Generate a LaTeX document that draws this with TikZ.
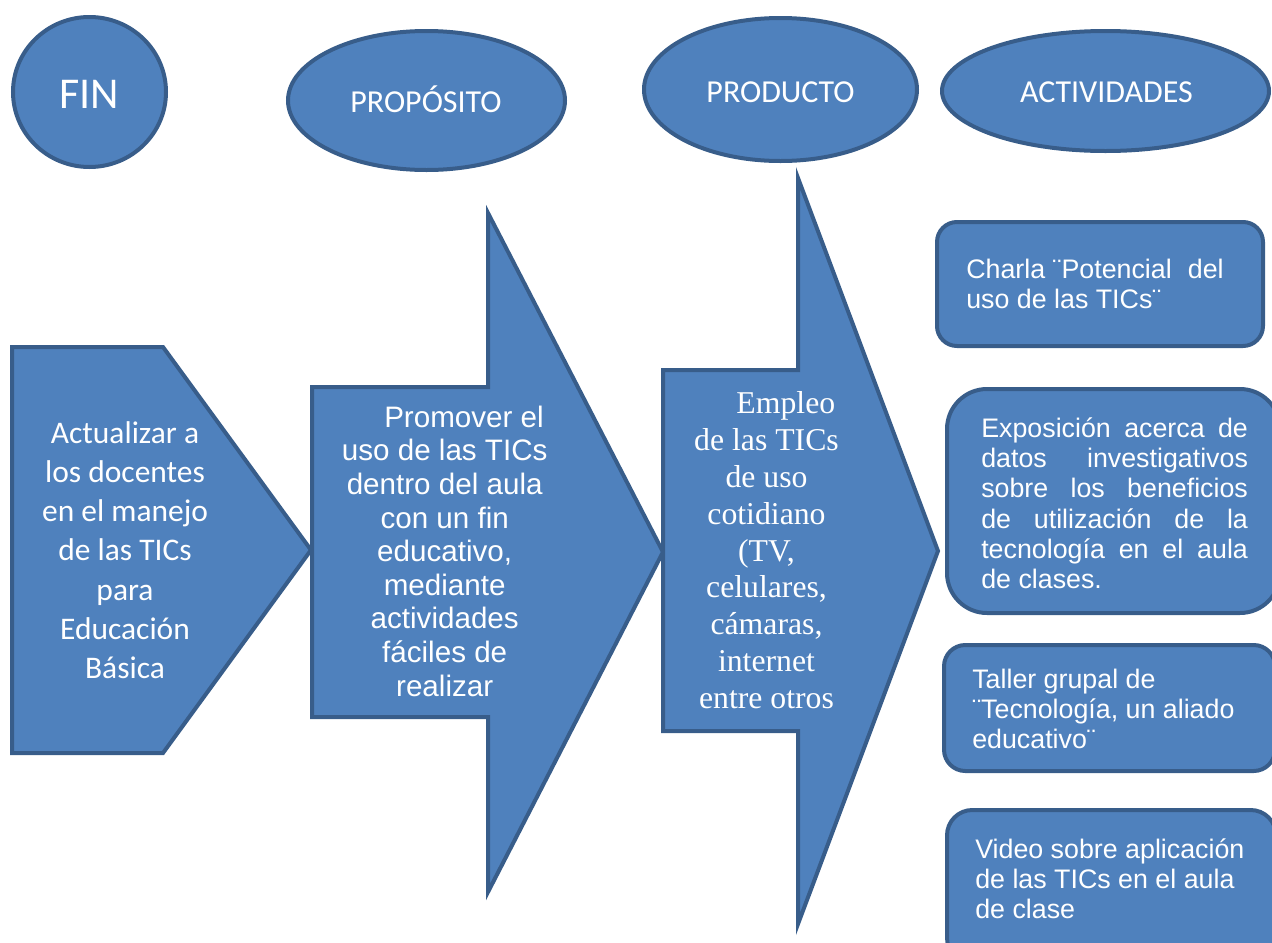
\documentclass[tikz,border=0pt]{standalone}
\usepackage{fontspec}
\usetikzlibrary{shapes.geometric}
\newfontfamily\carlito{Carlito}
\newfontfamily\arialf{Liberation Sans}
\newfontfamily\timesf{Liberation Serif}
\definecolor{fillblue}{HTML}{4F81BD}
\definecolor{edgeblue}{HTML}{385D8A}
\newcommand\tfl{\rule{0pt}{1em}}
\newcommand\jline[1]{\makebox[200pt][s]{#1}}
\begin{document}
\begin{tikzpicture}[x=0.75pt,y=-0.75pt,
  shp/.style={fill=fillblue, draw=edgeblue, line width=3pt, line join=miter},
  ell/.style={shp, ellipse, inner sep=0pt},
  actbox/.style={shp, rectangle, inner sep=0pt},
  wtxt/.style={text=white, inner sep=0pt},
  titletxt/.style={wtxt, anchor=base, font=\carlito\fontsize{24pt}{29pt}\selectfont},
  boxtxt/.style={wtxt, anchor=north west, align=left, font=\arialf\fontsize{20.1pt}{22.7pt}\selectfont}]
\useasboundingbox (0,0) rectangle (1272,943);

% title ellipses
\node[ell, minimum width=114.75pt, minimum height=112.5pt] (fin) at (89.5,92) {};
\node[wtxt, anchor=base, font=\carlito\fontsize{33pt}{40pt}\selectfont] (fintxt) at (89.5,108) {FIN};
\node[ell, minimum width=207.75pt, minimum height=104.25pt] (prop) at (426.5,100.5) {};
\node[titletxt] (proptxt) at (426,112) {PROPÓSITO};
\node[ell, minimum width=204.75pt, minimum height=107.25pt] (prod) at (780.5,89.5) {};
\node[titletxt] (prodtxt) at (780.5,102) {PRODUCTO};
\node[ell, minimum width=245.25pt, minimum height=90pt] (act) at (1105.5,91) {};
\node[titletxt] (acttxt) at (1106.5,102) {ACTIVIDADES};

% pentagon (FIN)
\draw[shp] (12,347) -- (163,347) -- (311,550) -- (163,753) -- (12,753) -- cycle;
\node[wtxt, anchor=north, align=center, font=\carlito\fontsize{23.6pt}{29.4pt}\selectfont] (fintext) at (125,411.5)
  {\tfl Actualizar a\\los docentes\\en el manejo\\de las TICs\\para\\Educación\\Básica};

% arrow (PROPÓSITO)
\draw[shp] (312,387) -- (488,387) -- (488,213) -- (663,552) -- (488,892) -- (488,717) -- (312,717) -- cycle;
\node[wtxt, anchor=north, align=center, font=\arialf\fontsize{22.2pt}{25.2pt}\selectfont] (proptext) at (444.7,397.4)
  {\tfl\hspace*{29pt}Promover el\\uso de las TICs\\dentro del aula\\con un fin\\educativo,\\mediante\\actividades\\fáciles de\\realizar};

% arrow (PRODUCTO)
\draw[shp] (663,370) -- (798,370) -- (798,178) -- (938,551) -- (798,924) -- (798,731) -- (663,731) -- cycle;
\node[wtxt, anchor=north, align=center, font=\timesf\fontsize{23.8pt}{27.7pt}\selectfont] (prodtext) at (766.5,381.3)
  {\tfl\hspace*{29pt}Empleo\\de las TICs\\de uso\\cotidiano\\(TV,\\celulares,\\cámaras,\\internet\\entre otros};

% activity boxes
\node[actbox, rounded corners=15pt, minimum width=244.5pt, minimum height=93pt] (b1) at (1100,284) {};
\node[boxtxt] (b1txt) at (966,251.2) {\tfl Charla ¨Potencial\hspace{0.6em}del\\uso de las TICs¨};

\node[actbox, rounded corners=30pt, minimum width=249.75pt, minimum height=168pt] (b2) at (1113.5,501) {};
\node[boxtxt] (b2txt) at (981,410.2) {\tfl\jline{Exposición acerca de}\\\jline{datos investigativos}\\\jline{sobre los beneficios}\\\jline{de utilización de la}\\\jline{tecnología en el aula}\\de clases.};

\node[actbox, rounded corners=16pt, minimum width=248.25pt, minimum height=94.5pt] (b3) at (1109.5,708) {};
\node[boxtxt] (b3txt) at (972,661.2) {\tfl Taller grupal de\\¨Tecnología, un aliado\\educativo¨};

\node[actbox, rounded corners=19pt, minimum width=246.75pt, minimum height=114.75pt] (b4) at (1111.5,886.5) {};
\node[boxtxt] (b4txt) at (975,831.2) {\tfl Video sobre aplicación\\de las TICs en el aula\\de clase};
\end{tikzpicture}
\end{document}
